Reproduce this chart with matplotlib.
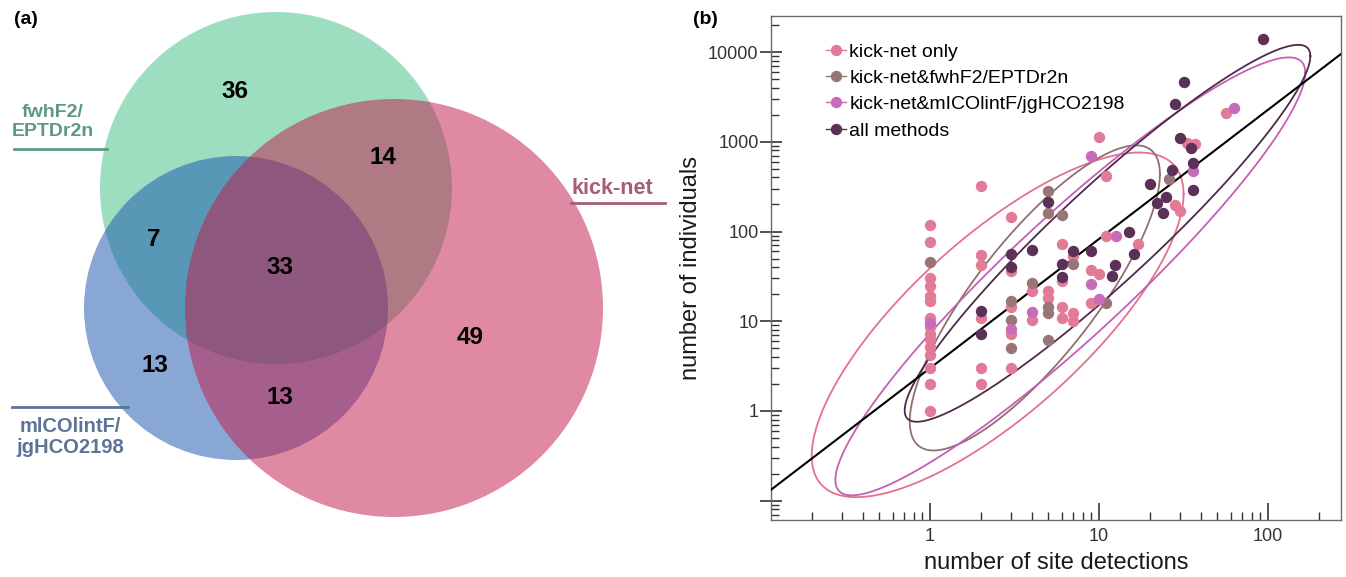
import numpy as np
import matplotlib
matplotlib.use("Agg")
import matplotlib.pyplot as plt
from matplotlib.patches import Circle
from matplotlib.lines import Line2D
from matplotlib.ticker import LogLocator, FuncFormatter

plt.rcParams["font.family"] = ["Liberation Sans", "DejaVu Sans"]

# ---- (a) Venn: species counts per region ----
venn_regions = ["fwhF2 only", "kick-net & fwhF2", "fwhF2 & mlCO", "all three",
                "mlCO only", "kick-net & mlCO", "kick-net only"]
venn_counts = [36, 14, 7, 33, 13, 13, 49]

# ---- (b) number of site detections vs number of individuals ----
kick_x = [1, 1, 1, 1, 1, 1, 1, 1, 1, 1, 1, 1, 1, 1, 1,
          2, 2, 2, 2, 2, 2, 3, 3, 3, 3, 3, 4, 4, 5, 5, 6, 6, 6, 6, 7, 7, 7,
          9, 9, 10, 10, 11, 11, 17, 28, 30, 33, 37, 56]
kick_y = [117, 76, 30, 25, 19, 17, 11, 8.7, 7.3, 6.3, 5.2, 4.2, 3, 2, 1,
          320, 55, 42, 11, 3, 2, 144, 36, 14.5, 7.3, 3, 22, 10.3, 22, 18, 72, 28, 14.3, 11, 53, 12.3, 10,
          37, 16, 1130, 34, 420, 88, 72, 197, 169, 960, 944, 2075]
fwh_x = [1, 3, 3, 3, 4, 5, 5, 5, 5, 5, 6, 7, 11, 26]
fwh_y = [46, 17, 10.3, 5, 26.5, 285, 160, 14.5, 12.3, 6.2, 153, 44, 16, 381]
mlco_x = [1, 3, 4, 9, 9, 10, 12.6, 36, 63]
mlco_y = [9.5, 8.3, 12.8, 690, 26, 17.6, 90, 476, 2400]
all_x = [2, 2, 3, 3, 4, 5, 6, 6, 7, 9, 12, 12.5, 15, 16, 20, 22, 24, 25, 27, 28, 30, 32, 35, 36, 36, 93]
all_y = [13, 7.2, 56, 40, 63, 215, 44, 31, 61, 60, 32, 42, 100, 56, 338, 206, 159, 240, 484, 2630, 1092,
         4590, 845, 584, 290, 13960]

group_labels = ["kick-net only", "kick-net&fwhF2/EPTDr2n", "kick-net&mICOlintF/jgHCO2198", "all methods"]
group_colors = ["#e27b98", "#9a7577", "#c86bbb", "#5c3158"]
ellipse_colors = ["#e5708f", "#8f6f70", "#c45fb4", "#4e2a4b"]
# ellipse per group in log10 units: mean x, mean y, half-width x, half-width y, correlation
ell_cx = [0.40, 0.62, 0.83, 1.05]
ell_cy = [0.96, 1.26, 1.50, 1.98]
ell_sx = [1.10, 0.74, 1.39, 1.20]
ell_sy = [1.92, 1.70, 2.44, 2.10]
ell_r = [0.76, 0.81, 0.93, 0.94]
# log-log fit: individuals = fit_a * detections ** fit_b
fit_a, fit_b = 3.0, 1.44

W, H = 1346, 577
fig = plt.figure(figsize=(W / 100, H / 100), dpi=100)

# ---------------- panel (a) ----------------
av = fig.add_axes([0, 0, 680 / W, 1])
av.set_xlim(0, 680)
av.set_ylim(577, 0)
av.set_aspect("equal")
av.axis("off")

av.add_patch(Circle((276, 188), 176, facecolor=(60/255, 190/255, 130/255), alpha=0.5, lw=0))
av.add_patch(Circle((236, 308), 152, facecolor=(21/255, 81/255, 171/255), alpha=0.5, lw=0))
av.add_patch(Circle((394, 308), 209, facecolor=(194/255, 27/255, 73/255), alpha=0.51, lw=0))

venn_pos = [(235, 91), (383, 157), (154, 240), (280, 267), (155, 366), (280, 397), (470, 337)]
for (px, py), n in zip(venn_pos, venn_counts):
    av.text(px, py, str(n), ha="center", va="center", fontsize=17.5, fontweight="bold", color="black")

GREEN_T, PINK_T, BLUE_T = "#5e9a82", "#a65c7a", "#5b7497"
av.text(53, 122, "fwhF2/\nEPTDr2n", ha="center", va="center", fontsize=14, fontweight="bold",
        color=GREEN_T, linespacing=1.1)
av.plot([14, 107], [149, 149], color=GREEN_T, lw=2)
av.text(612, 188, "kick-net", ha="center", va="center", fontsize=15.5, fontweight="bold", color=PINK_T)
av.plot([571, 665], [203, 203], color=PINK_T, lw=2)
av.text(70, 437, "mlCOlintF/\njgHCO2198", ha="center", va="center", fontsize=14.5, fontweight="bold",
        color=BLUE_T, linespacing=1.1)
av.plot([12, 128], [407, 407], color=BLUE_T, lw=2)
av.text(26, 19, "(a)", ha="center", va="center", fontsize=14, fontweight="bold")

# ---------------- panel (b) ----------------
ax = fig.add_axes([771 / W, (577 - 520) / H, (1341 - 771) / W, (520 - 16) / H])
ax.set_xscale("log")
ax.set_yscale("log")
ax.set_xlim(0.1146, 270)
ax.set_ylim(0.061, 25200)

# ellipses
t = np.linspace(0, 2 * np.pi, 400)
for cx, cy, sx, sy, r, c in zip(ell_cx, ell_cy, ell_sx, ell_sy, ell_r, ellipse_colors):
    lx = cx + sx * np.cos(t)
    ly = cy + sy * (r * np.cos(t) + np.sqrt(1 - r * r) * np.sin(t))
    ax.plot(10 ** lx, 10 ** ly, color=c, lw=1.3, zorder=2)

xf = np.array(ax.get_xlim())
ax.plot(xf, fit_a * xf ** fit_b, color="black", lw=1.5, zorder=3)

groups = [(kick_x, kick_y), (fwh_x, fwh_y), (mlco_x, mlco_y), (all_x, all_y)]
draw_order = [3, 1, 0, 2]
for i in draw_order:
    gx, gy = groups[i]
    ax.plot(gx, gy, "o", ms=8.2, mec="none", color=group_colors[i], zorder=4 + i * 0.1, clip_on=False)

handles = [Line2D([0], [0], color=c, lw=1.0, marker="o", ms=8.2, mec="none") for c in group_colors]
ax.legend(handles, group_labels, loc="upper left", bbox_to_anchor=(0.083, 0.962), frameon=False,
          fontsize=14, handlelength=1.0, handletextpad=0.2, labelspacing=0.45, borderaxespad=0)

for s in ax.spines.values():
    s.set_color("#6a6a6a")
    s.set_linewidth(1.0)
ax.xaxis.set_major_locator(LogLocator(base=10, numticks=10))
ax.xaxis.set_minor_locator(LogLocator(base=10, subs=np.arange(2, 10), numticks=20))
ax.yaxis.set_major_locator(LogLocator(base=10, numticks=10))
ax.yaxis.set_minor_locator(LogLocator(base=10, subs=np.arange(2, 10), numticks=20))
fmt = FuncFormatter(lambda v, p: f"{v:.0f}" if v >= 1 else "")
ax.xaxis.set_major_formatter(fmt)
ax.yaxis.set_major_formatter(fmt)
ax.tick_params(axis="x", which="major", direction="in", length=12, width=1.2, color="#333333",
               labelsize=13, labelcolor="#333333", pad=6, top=False)
ax.tick_params(axis="x", which="minor", direction="in", length=6, width=1, color="#333333", top=False)
ax.tick_params(axis="y", which="major", direction="inout", length=16, width=1.2, color="#333333",
               labelsize=13, labelcolor="#333333", pad=1, right=False)
ax.tick_params(axis="y", which="minor", direction="in", length=6, width=1, color="#333333", right=False)
ax.set_xlabel("number of site detections", fontsize=17, color="#1a1a1a", labelpad=5)
ax.set_ylabel("number of individuals", fontsize=17, color="#1a1a1a", labelpad=4)

fig.text(705 / W, 1 - 19 / H, "(b)", ha="center", va="center", fontsize=14, fontweight="bold")

fig.savefig("out.png", dpi=100)
